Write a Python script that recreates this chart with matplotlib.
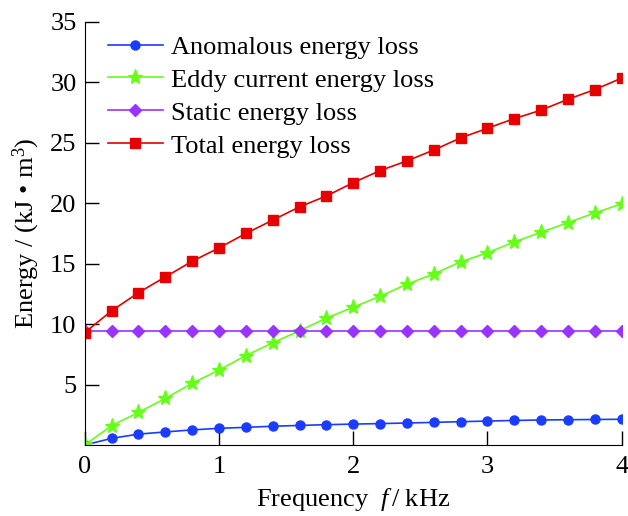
import matplotlib.pyplot as plt

plt.rcParams['font.family'] = 'Liberation Serif'
plt.rcParams['mathtext.fontset'] = 'custom'
plt.rcParams['mathtext.rm'] = 'Liberation Serif'
plt.rcParams['mathtext.it'] = 'Liberation Serif:italic'

freq = [0.0, 0.2, 0.4, 0.6, 0.8, 1.0, 1.2, 1.4, 1.6, 1.8, 2.0,
        2.2, 2.4, 2.6, 2.8, 3.0, 3.2, 3.4, 3.6, 3.8, 4.0]
anomalous = [0, 0.55, 0.9, 1.08, 1.25, 1.38, 1.46, 1.55, 1.62, 1.68, 1.73,
             1.77, 1.82, 1.87, 1.93, 1.98, 2.03, 2.07, 2.09, 2.11, 2.13]
eddy = [0, 1.6, 2.7, 3.85, 5.1, 6.2, 7.4, 8.45, 9.45, 10.5, 11.4,
        12.3, 13.3, 14.15, 15.15, 15.9, 16.8, 17.6, 18.4, 19.2, 19.95]
static = [9.45] * 21
total = [9.3, 11.1, 12.6, 13.9, 15.2, 16.3, 17.5, 18.6, 19.7, 20.6, 21.7,
         22.7, 23.5, 24.4, 25.4, 26.2, 27.0, 27.7, 28.6, 29.4, 30.35]

fig = plt.figure(figsize=(6.28, 5.16), dpi=100)
ax = fig.add_axes([0.135, 0.1376, 0.855, 0.82])

ax.plot(freq, anomalous, color='#1a3cff', marker='o', markersize=6.5, lw=1.2,
        label='Anomalous energy loss')
ax.plot(freq, eddy, color='#66ff1a', marker='*', markersize=11, lw=1.2,
        label='Eddy current energy loss')
ax.plot(freq, static, color='#9933ff', marker='D', markersize=6.5, lw=1.2,
        label='Static energy loss')
ax.plot(freq, total, color='#e60000', marker='s', markersize=6.5, lw=1.2,
        label='Total energy loss')

ax.set_xlim(0, 4)
ax.set_ylim(0, 35)
ax.set_xticks([0, 1, 2, 3, 4])
ax.set_yticks([5, 10, 15, 20, 25, 30, 35])
ax.tick_params(direction='in', length=10, width=1, labelsize=19, pad=6)
ax.tick_params(axis='x', pad=8)
ax.spines['top'].set_visible(False)
ax.spines['right'].set_visible(False)

ax.set_xlabel(r'Frequency  $f\,$/ kHz', fontsize=19, labelpad=6)
ax.set_ylabel('Energy / (kJ \u2022 m$^3$)', fontsize=19, labelpad=6)

ax.legend(loc='upper left', bbox_to_anchor=(0.008, 1.012), frameon=False,
          fontsize=19, handlelength=2.1, handletextpad=0.3, labelspacing=0.36,
          borderaxespad=0.3)

fig.savefig('out.png', dpi=100)
